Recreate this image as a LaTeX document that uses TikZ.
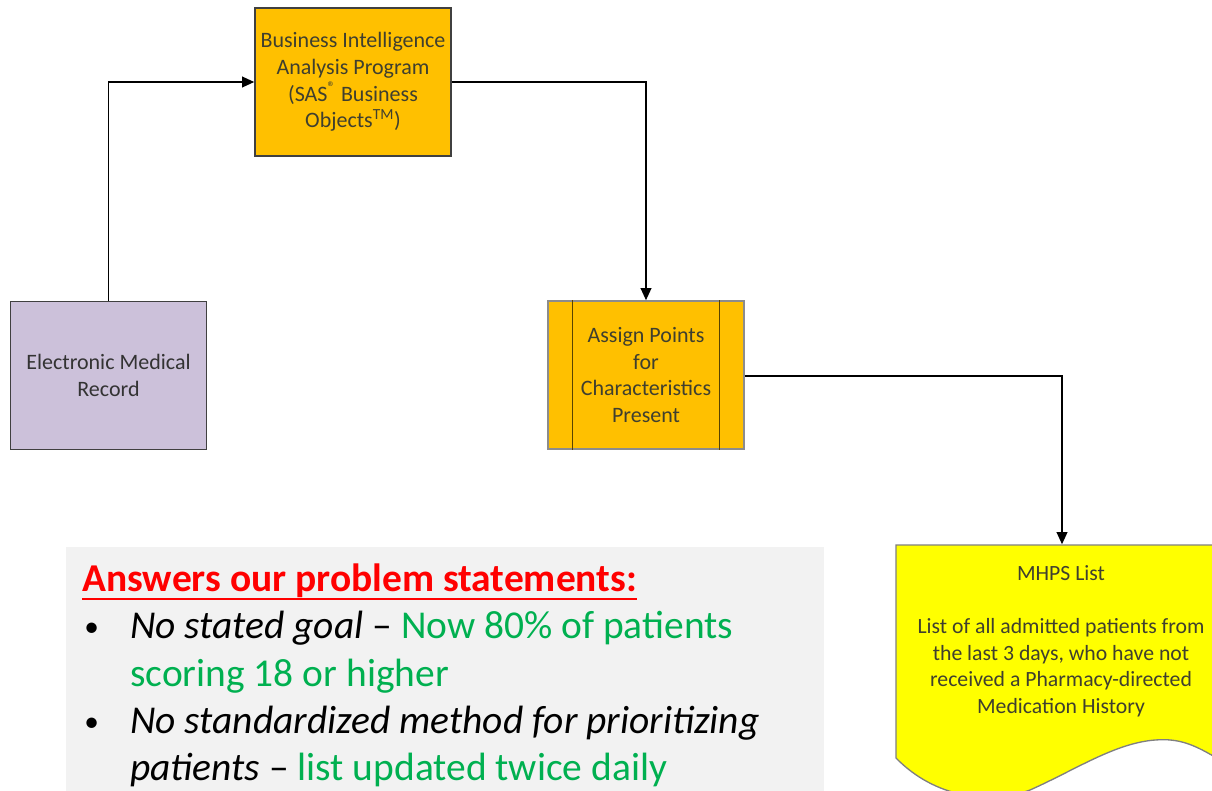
\documentclass[tikz,border=0pt]{standalone}
\usepackage{fontspec}
\setmainfont{Carlito}
\usetikzlibrary{arrows.meta}
\definecolor{orangebox}{HTML}{FFC000}
\definecolor{lavbox}{HTML}{CCC1DA}
\definecolor{docyellow}{HTML}{FFFF00}
\definecolor{panelgray}{HTML}{F2F2F2}
\definecolor{txtgreen}{HTML}{00B050}
\definecolor{boxtext}{HTML}{3F3F2F}
\begin{document}
\begin{tikzpicture}[x=0.75pt,y=-0.75pt,
  procbox/.style={draw=black!75,line width=1.2pt,minimum width=196*0.75pt,minimum height=148*0.75pt,
    inner sep=0pt,align=center,font=\fontsize{16.5}{20}\selectfont,text=boxtext},
  conn/.style={line width=1.1pt,-{Triangle[length=9pt,width=8pt]}},
  bigtxt/.style={anchor=base west,inner sep=0pt,font=\fontsize{29.6}{35}\selectfont}]
\useasboundingbox (0,0) rectangle (1212,790);
\clip (0,0) rectangle (1212,790);
% boxes
\node[procbox,fill=lavbox,text=black!80] (emr) at (108.5,375.5) {Electronic Medical\\Record};
\node[procbox,fill=orangebox] (bi) at (353,82) {Business Intelligence\\Analysis Program\\(SAS\textsuperscript{\textregistered} Business\\Objects\textsuperscript{TM})};
\node[procbox,fill=orangebox,draw=black!45] (ap) at (646,375) {Assign Points\\for\\Characteristics\\Present};
\draw[black!50!orangebox!70!black,line width=0.8pt] ([xshift=25*0.75pt]ap.north west) -- ([xshift=25*0.75pt]ap.south west);
\draw[black!50!orangebox!70!black,line width=0.8pt] ([xshift=-25*0.75pt]ap.north east) -- ([xshift=-25*0.75pt]ap.south east);
% document shape
\node[minimum width=316*0.75pt,minimum height=215*0.75pt,inner sep=0pt] (mhps) at (1054,652) {};
\fill[docyellow,draw=black!50,line width=1pt] (896,545) -- (1220,545) -- (1220,760)
  .. controls (1195,745) and (1180,738) .. (1155,740)
  .. controls (1115,743) and (1075,770) .. (1030,790)
  .. controls (990,805) and (935,798) .. (896,758) -- cycle;
\node[align=center,font=\fontsize{16.3}{20}\selectfont,text=boxtext] (mhpstext) at (1061,641)
  {MHPS List\\[20pt]List of all admitted patients from\\the last 3 days, who have not\\received a Pharmacy-directed\\Medication History};
% connectors
\coordinate (c1) at (emr.north |- bi.west);
\coordinate (c2) at (ap.north |- bi.east);
\coordinate (c3) at (1062,376);
\draw[conn] (emr.north) -- (c1) -- (bi.west);
\draw[conn] (bi.east) -- (c2) -- (ap.north);
\draw[conn] (ap.east |- c3) -- (c3) -- (mhps.north -| c3);
% text panel
\fill[panelgray] (66,547) rectangle (824,795);
\node[bigtxt,text=red,font=\fontsize{29.6}{35}\bfseries] (title) at (82,591) {Answers our problem statements:};
\draw[red,line width=2pt] (82,599) -- (title.base east |- 0,599);
\node[bigtxt,font=\fontsize{22}{26}\selectfont] (b1) at (84,636) {•};
\node[bigtxt] (l1) at (130,638) {\textit{No stated goal} – \textcolor{txtgreen}{Now 80\% of patients}};
\node[bigtxt,text=txtgreen] (l2) at (130,686) {scoring 18 or higher};
\node[bigtxt,font=\fontsize{22}{26}\selectfont] (b2) at (84,731) {•};
\node[bigtxt] (l3) at (130,733) {\textit{No standardized method for prioritizing}};
\node[bigtxt] (l4) at (130,780) {\textit{patients} – \textcolor{txtgreen}{list updated twice daily}};
\end{tikzpicture}
\end{document}
